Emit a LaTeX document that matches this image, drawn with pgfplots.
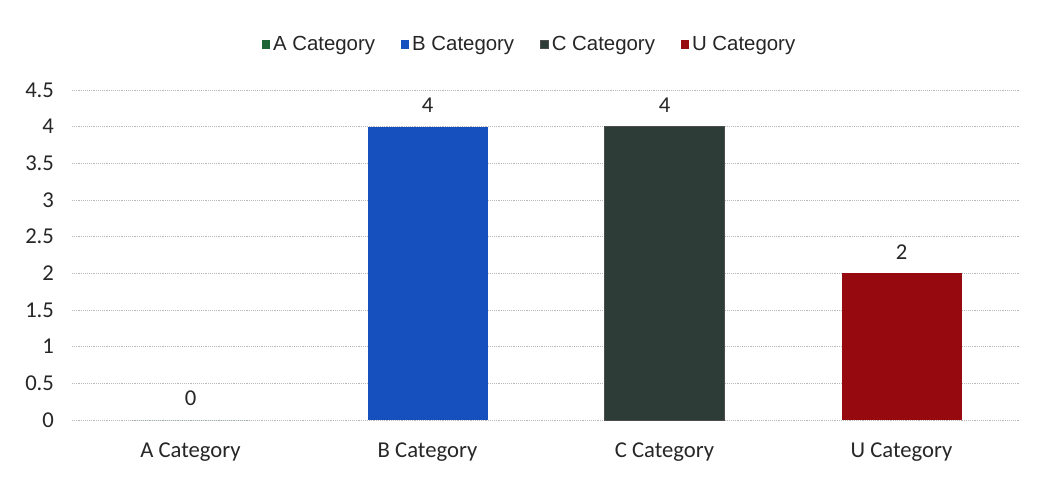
\documentclass[border=0pt]{standalone}
\usepackage{pgfplots}
\pgfplotsset{compat=1.18}
\usepackage{fontspec}
\setmainfont{Carlito}
\newfontfamily\legfont{Liberation Sans}
\definecolor{cA}{RGB}{30,100,55}
\definecolor{cB}{RGB}{22,80,190}
\definecolor{cC}{RGB}{45,60,55}
\definecolor{cU}{RGB}{150,10,15}
\begin{document}
\begin{tikzpicture}[x=1pt,y=1pt]
\begin{axis}[
  name=ax,
  scale only axis,
  width=711pt, height=247.5pt,
  xmin=-0.5, xmax=3.5,
  ymin=0, ymax=4.5,
  ytick={0,0.5,...,4.5},
  yticklabels={0,0.5,1,1.5,2,2.5,3,3.5,4,4.5},
  xtick={0,1,2,3},
  xticklabels={A Category,B Category,C Category,U Category},
  /pgf/number format/assume math mode=true,
  ybar, bar width=90pt, bar shift=0pt,
  axis line style={draw=none},
  tick style={draw=none},
  ymajorgrids,
  grid style={gray!55, densely dotted, line width=0.6pt},
  ticklabel style={font=\fontsize{17}{19}\selectfont, text=black!85},
  yticklabel style={xshift=-10pt},
  xticklabel style={yshift=-9pt},
  nodes near coords,
  every node near coord/.append style={font=\fontsize{17}{19}\selectfont, text=black!85, yshift=7pt},
  legend style={at={(0.483,1)}, anchor=south, yshift=24pt, draw=none,
    font=\legfont\fontsize{15.3}{17}\selectfont, text=black!85,
    legend columns=4, nodes={inner xsep=2.2pt},
    /tikz/every even column/.append style={column sep=17pt}},
  legend image code/.code={\fill[#1] (0pt,-3.2pt) rectangle (6.4pt,3.2pt);},
]
\addplot[fill=cA, draw=none] coordinates {(0,0)};
\addlegendentry{A Category}
\addplot[fill=cB, draw=none] coordinates {(1,4)};
\addlegendentry{B Category}
\addplot[fill=cC, draw=black!70] coordinates {(2,4)};
\addlegendentry{C Category}
\addplot[fill=cU, draw=none] coordinates {(3,2)};
\addlegendentry{U Category}
\end{axis}
\useasboundingbox ([xshift=-54pt,yshift=-43.5pt]ax.south west) rectangle ([xshift=13.5pt,yshift=67.5pt]ax.north east);
\end{tikzpicture}
\end{document}
